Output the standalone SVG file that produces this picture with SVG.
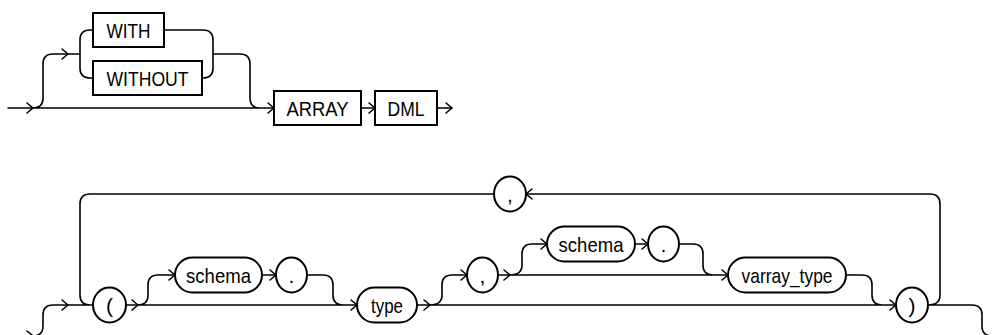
<svg xmlns="http://www.w3.org/2000/svg" xmlns:xlink="http://www.w3.org/1999/xlink" width="992" height="335" viewBox="0 0 992 335">
<style>
.ln{fill:none;stroke:#000;stroke-width:1.6;stroke-linecap:round;stroke-linejoin:round}
.bx{fill:#fff;stroke:#000;stroke-width:2}
.t{font-family:"Liberation Sans Narrow","Liberation Sans",Arial,sans-serif;font-size:21px;fill:#000;text-anchor:middle}
</style>
<defs>
<path id="ar" d="M-6,-5 L0,0 L-6,5" fill="none" stroke="#000" stroke-width="1.6" stroke-linecap="round" stroke-linejoin="round"/>
</defs>
<rect width="992" height="335" fill="#fff"/>
<g id="connectors">
<path class="ln" d="M8,108 H274 M33,108 Q43,108 43,98 V64 Q43,54 53,54 H80 M80,54 V40 Q80,30 90,30 H93 M80,54 V68 Q80,78 90,78 H93 M164,30 H203 Q213,30 213,40 V68 Q213,78 203,78 H202 M213,54 H240 Q250,54 250,64 V98 Q250,108 260,108 M361,108 H375 M437,108 H452"/>
<path class="ln" d="M0,336 H33 Q43,336 43,326 V315 Q43,305 53,305 H93 M494,194 H90 Q80,194 80,204 V295 Q80,305 90,305 H93 M126,305 H357 M138,305 Q148,305 148,295 V285 Q148,275 158,275 H175 M262,275 H276 M307,275 H323 Q333,275 333,285 V295 Q333,305 343,305 M417,305 H896 M430,305 Q442,305 442,295 V285 Q442,275 452,275 H467 M498,275 H728 M510,275 Q522,275 522,265 V254 Q522,244 532,244 H547 M635,244 H648 M679,244 H693 Q703,244 703,254 V265 Q703,275 713,275 M846,275 H862 Q872,275 872,285 V295 Q872,305 882,305 H896 M928,305 H972 Q982,305 982,315 V326 Q982,336 992,336 M928,305 Q940,305 940,295 V204 Q940,194 930,194 H526"/>
<use xlink:href="#ar" transform="translate(33,108)"/>
<use xlink:href="#ar" transform="translate(68,54)"/>
<use xlink:href="#ar" transform="translate(274,108)"/>
<use xlink:href="#ar" transform="translate(375,108)"/>
<use xlink:href="#ar" transform="translate(452,108)"/>
<use xlink:href="#ar" transform="translate(33,336)"/>
<use xlink:href="#ar" transform="translate(68,305)"/>
<use xlink:href="#ar" transform="translate(138,305)"/>
<use xlink:href="#ar" transform="translate(175,275)"/>
<use xlink:href="#ar" transform="translate(276,275)"/>
<use xlink:href="#ar" transform="translate(357,305)"/>
<use xlink:href="#ar" transform="translate(430,305)"/>
<use xlink:href="#ar" transform="translate(467,275)"/>
<use xlink:href="#ar" transform="translate(510,275)"/>
<use xlink:href="#ar" transform="translate(547,244)"/>
<use xlink:href="#ar" transform="translate(648,244)"/>
<use xlink:href="#ar" transform="translate(728,275)"/>
<use xlink:href="#ar" transform="translate(896,305)"/>
<use xlink:href="#ar" transform="translate(526,194) rotate(180)"/>
</g>
<g id="n_with"><rect class="bx" x="93" y="13" width="71" height="34"/><text class="t" x="128.5" y="37.5" textLength="44" lengthAdjust="spacingAndGlyphs">WITH</text></g>
<g id="n_without"><rect class="bx" x="93" y="61" width="109" height="34"/><text class="t" x="147.5" y="85.5" textLength="82" lengthAdjust="spacingAndGlyphs">WITHOUT</text></g>
<g id="n_array"><rect class="bx" x="274" y="91" width="87" height="34"/><text class="t" x="317.5" y="115.5" textLength="62" lengthAdjust="spacingAndGlyphs">ARRAY</text></g>
<g id="n_dml"><rect class="bx" x="375" y="91" width="62" height="34"/><text class="t" x="406" y="115.5" textLength="37" lengthAdjust="spacingAndGlyphs">DML</text></g>
<g id="n_lparen"><rect class="bx" x="93" y="287.5" width="33" height="35" rx="16.5" ry="17.5"/><text class="t" x="109.5" y="312.5">(</text></g>
<g id="n_schema1"><rect class="bx" x="175" y="257.5" width="87" height="35" rx="17.5" ry="17.5"/><text class="t" x="218.5" y="282.5" textLength="65" lengthAdjust="spacingAndGlyphs">schema</text></g>
<g id="n_dot1"><rect class="bx" x="276" y="257.5" width="31" height="35" rx="15.5" ry="17.5"/><text class="t" x="291.5" y="282.5">.</text></g>
<g id="n_type"><rect class="bx" x="357" y="287.5" width="60" height="35" rx="17.5" ry="17.5"/><text class="t" x="387" y="312.5" textLength="32" lengthAdjust="spacingAndGlyphs">type</text></g>
<g id="n_comma1"><rect class="bx" x="467" y="257.5" width="31" height="35" rx="15.5" ry="17.5"/><text class="t" x="482.5" y="282.5">,</text></g>
<g id="n_schema2"><rect class="bx" x="547" y="226.5" width="88" height="35" rx="17.5" ry="17.5"/><text class="t" x="591" y="251.5" textLength="65" lengthAdjust="spacingAndGlyphs">schema</text></g>
<g id="n_dot2"><rect class="bx" x="648" y="226.5" width="31" height="35" rx="15.5" ry="17.5"/><text class="t" x="663.5" y="251.5">.</text></g>
<g id="n_varray"><rect class="bx" x="728" y="257.5" width="118" height="35" rx="17.5" ry="17.5"/><text class="t" x="787" y="282.5" textLength="91" lengthAdjust="spacingAndGlyphs">varray_type</text></g>
<g id="n_rparen"><rect class="bx" x="896" y="287.5" width="32" height="35" rx="16" ry="17.5"/><text class="t" x="912" y="312.5">)</text></g>
<g id="n_comma2"><rect class="bx" x="494" y="176.5" width="32" height="35" rx="16" ry="17.5"/><text class="t" x="510" y="201.5">,</text></g>
</svg>
